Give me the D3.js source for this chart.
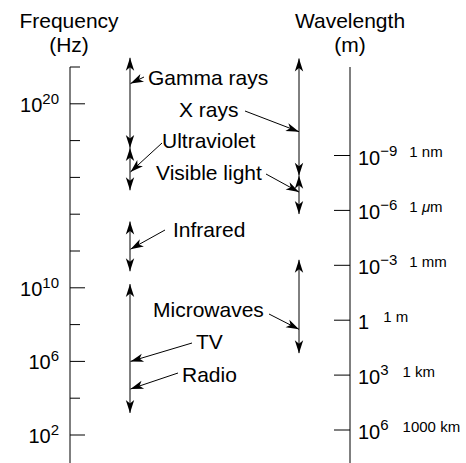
<!DOCTYPE html>
<html>
<head>
<meta charset="utf-8">
<script src="https://cdn.jsdelivr.net/npm/d3@7"></script>
<style>
  body { margin: 0; background: #fff; }
  svg { display: block; font-family: "Liberation Sans", Arial, Helvetica, sans-serif; }
</style>
</head>
<body>
<div id="chart"></div>
<script>
// log10 of frequency (Hz) on the left axis
const freqTicks = [2, 4, 6, 8, 10, 12, 14, 16, 18, 20, 22];
const freqLabels = [2, 6, 10, 20];

// log10 of wavelength (m) on the right axis
const waveTicks = [-9, -6, -3, 0, 3, 6];
const waveUnits = ['1 nm', '1 \u03bcm', '1 mm', '1 m', '1 km', '1000 km'];

// bands drawn as double arrows: [low, high] exponents
const freqBands = [[17.6, 22.5], [15.3, 17.6], [10.9, 13.6], [3.2, 10.2]];
const waveBands = [[-14.3, -7.9], [-7.9, -5.8], [-3.3, 1.8]];

// named regions and where their pointer lands
const freqNames = ['Gamma rays', 'Ultraviolet', 'Infrared', 'TV', 'Radio'];
const freqAt = [21.1, 16.3, 12.1, 6, 4.5];
const waveNames = ['X rays', 'Visible light', 'Microwaves'];
const waveAt = [-10.3, -7, 0.5];

const W = 466, H = 463;
const FREQ_AXIS_X = 70, WAVE_AXIS_X = 350;
const FREQ_COL_X = 130, WAVE_COL_X = 299;

// label placement: text x / baseline, pointer start
const freqLayout = [
  { tx: 148, ty: 85, px: 144, py: 77 },
  { tx: 162, ty: 148, px: 162, py: 143 },
  { tx: 173, ty: 237, px: 165, py: 230 },
  { tx: 196, ty: 349, px: 192, py: 343 },
  { tx: 182, ty: 382, px: 178, py: 373 }
];
const waveLayout = [
  { tx: 179, ty: 117, px: 245, py: 111 },
  { tx: 156, ty: 180, px: 266, py: 174 },
  { tx: 153, ty: 317, px: 269, py: 314 }
];

const yF = d3.scaleLinear().domain([2, 22]).range([435, 67]);
const yW = d3.scaleLinear().domain([-9, 6]).range([155.5, 430]);

const svg = d3.select('#chart').append('svg')
  .attr('width', W)
  .attr('height', H);

svg.append('defs').append('marker')
  .attr('id', 'head')
  .attr('viewBox', '-14 -5 15 10')
  .attr('refX', 0)
  .attr('refY', 0)
  .attr('markerWidth', 15)
  .attr('markerHeight', 10)
  .attr('markerUnits', 'userSpaceOnUse')
  .attr('orient', 'auto-start-reverse')
  .append('path')
    .attr('d', 'M0,0 L-13,-4.2 L-9.5,0 L-13,4.2 Z')
    .attr('fill', '#000');

// titles
const titles = [
  { x: 69, lines: ['Frequency', '(Hz)'] },
  { x: 350, lines: ['Wavelength', '(m)'] }
];
titles.forEach(t => {
  t.lines.forEach((s, i) => {
    svg.append('text')
      .attr('x', t.x)
      .attr('y', 28 + i * 24)
      .attr('text-anchor', 'middle')
      .attr('font-size', 21)
      .text(s);
  });
});

// frequency axis
const fAxis = svg.append('g').attr('class', 'freq-axis');
fAxis.append('line')
  .attr('x1', FREQ_AXIS_X).attr('x2', FREQ_AXIS_X)
  .attr('y1', yF(22)).attr('y2', H)
  .attr('stroke', '#000');
fAxis.selectAll('.tick')
  .data(freqTicks)
  .enter()
  .append('line')
    .attr('class', 'tick')
    .attr('x1', FREQ_AXIS_X)
    .attr('x2', d => FREQ_AXIS_X + (freqLabels.includes(d) ? 15 : 10))
    .attr('y1', d => yF(d)).attr('y2', d => yF(d))
    .attr('stroke', '#000');
const fLab = fAxis.selectAll('.tick-label')
  .data(freqLabels)
  .enter()
  .append('text')
    .attr('class', 'tick-label')
    .attr('x', 59)
    .attr('y', d => yF(d) + 8)
    .attr('text-anchor', 'end')
    .attr('font-size', 20);
fLab.append('tspan').text('10');
fLab.append('tspan')
  .attr('dy', -8)
  .attr('font-size', 15)
  .text(d => d);

// wavelength axis
const wAxis = svg.append('g').attr('class', 'wave-axis');
wAxis.append('line')
  .attr('x1', WAVE_AXIS_X).attr('x2', WAVE_AXIS_X)
  .attr('y1', 67).attr('y2', H)
  .attr('stroke', '#000');
wAxis.selectAll('.tick')
  .data(waveTicks)
  .enter()
  .append('line')
    .attr('class', 'tick')
    .attr('x1', WAVE_AXIS_X - 16).attr('x2', WAVE_AXIS_X)
    .attr('y1', d => yW(d)).attr('y2', d => yW(d))
    .attr('stroke', '#000');
const wLab = wAxis.selectAll('.tick-label')
  .data(waveTicks)
  .enter()
  .append('text')
    .attr('class', 'tick-label')
    .attr('x', 358)
    .attr('y', d => yW(d) + 9)
    .attr('font-size', 20);
wLab.append('tspan').text(d => d === 0 ? '1' : '10');
wLab.filter(d => d !== 0)
  .append('tspan')
    .attr('dy', -9)
    .attr('font-size', 15)
    .text(d => String(d).replace('-', '\u2212'));
// unit names, the mu set in italic
wLab.each(function(d, i) {
  const parts = waveUnits[i].split('\u03bc');
  const t = d3.select(this);
  t.append('tspan')
    .attr('dx', d === 0 ? 14 : (d > 0 ? 14 : 12))
    .attr('dy', d === 0 ? -7.5 : 1.5)
    .attr('font-size', 15)
    .text(parts[0]);
  if (parts.length > 1) {
    t.append('tspan')
      .attr('font-size', 15)
      .attr('font-style', 'italic')
      .text('\u03bc');
    t.append('tspan')
      .attr('font-size', 15)
      .text(parts[1]);
  }
});

// band arrows
svg.selectAll('.freq-band')
  .data(freqBands)
  .enter()
  .append('line')
    .attr('class', 'freq-band')
    .attr('x1', FREQ_COL_X).attr('x2', FREQ_COL_X)
    .attr('y1', d => yF(d[1])).attr('y2', d => yF(d[0]))
    .attr('stroke', '#000')
    .attr('marker-start', 'url(#head)')
    .attr('marker-end', 'url(#head)');
svg.selectAll('.wave-band')
  .data(waveBands)
  .enter()
  .append('line')
    .attr('class', 'wave-band')
    .attr('x1', WAVE_COL_X).attr('x2', WAVE_COL_X)
    .attr('y1', d => yW(d[0])).attr('y2', d => yW(d[1]))
    .attr('stroke', '#000')
    .attr('marker-start', 'url(#head)')
    .attr('marker-end', 'url(#head)');

// names with pointers
const drawNames = (names, at, layout, y, colX, cls) => {
  const g = svg.selectAll('.' + cls)
    .data(names)
    .enter()
    .append('g')
    .attr('class', cls);
  g.append('text')
    .attr('x', (d, i) => layout[i].tx)
    .attr('y', (d, i) => layout[i].ty)
    .attr('font-size', 21)
    .text(d => d);
  g.append('line')
    .attr('x1', (d, i) => layout[i].px)
    .attr('y1', (d, i) => layout[i].py)
    .attr('x2', colX)
    .attr('y2', (d, i) => y(at[i]))
    .attr('stroke', '#000')
    .attr('marker-end', 'url(#head)');
};
drawNames(freqNames, freqAt, freqLayout, yF, FREQ_COL_X + 0.5, 'freq-name');
drawNames(waveNames, waveAt, waveLayout, yW, WAVE_COL_X, 'wave-name');
</script>
</body>
</html>
